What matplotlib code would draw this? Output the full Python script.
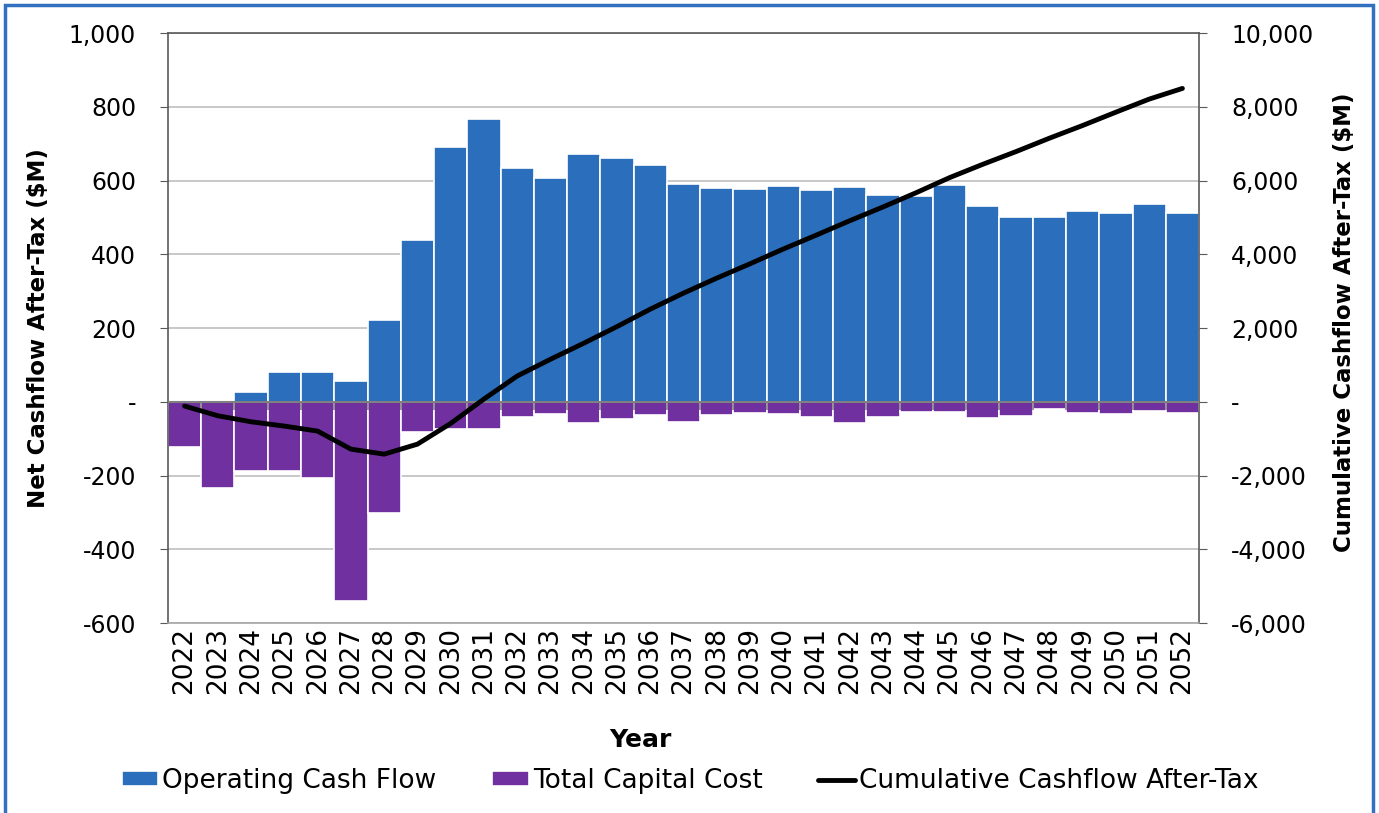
import matplotlib.pyplot as plt
import matplotlib.patches as patches
import numpy as np

plt.rcParams['font.family'] = ['DejaVu Sans']

years = list(range(2022, 2053))

operating_cf = [0, 0, 27, 80, 82, 55, 223, 440, 692, 767,
                635, 608, 672, 662, 643, 591, 579, 576, 586, 575,
                582, 562, 558, 587, 532, 500, 500, 516, 513, 536, 513]

capital_cost = [-123, -235, -189, -187, -208, -541, -302, -82, -75, -73,
                -42, -34, -57, -46, -35, -56, -36, -30, -33, -42,
                -57, -42, -29, -27, -43, -38, -21, -30, -33, -26, -30]

cumulative = [-117, -380, -543, -660, -796, -1285, -1421, -1150, -588, 73,
              698, 1152, 1587, 2038, 2510, 2946, 3353, 3742, 4141, 4522,
              4910, 5283, 5671, 6078, 6440, 6785, 7147, 7492, 7853, 8207, 8497]

left_ticks = [1000, 800, 600, 400, 200, 0, -200, -400, -600]
right_ticks = [10000, 8000, 6000, 4000, 2000, 0, -2000, -4000, -6000]

blue = '#2B6EBB'
purple = '#7030A0'

fig = plt.figure(figsize=(13.79, 8.13), dpi=100)
ax = fig.add_axes([0.1218, 0.2337, 0.7477, 0.7257])

x = np.arange(len(years))
ax.bar(x, operating_cf, width=1.0, color=blue, edgecolor='white', linewidth=1.2,
       label='Operating Cash Flow', zorder=2)
ax.bar(x, capital_cost, width=1.0, color=purple, edgecolor='white', linewidth=1.2,
       label='Total Capital Cost', zorder=2)

ax.set_xlim(-0.5, len(years) - 0.5)
ax.set_ylim(-600, 1000)
ax.set_yticks(left_ticks)
ax.set_yticklabels([f'{v:,}' if v != 0 else '-' for v in left_ticks], fontsize=17)
ax.set_xticks(x)
ax.set_xticklabels([str(y) for y in years], rotation=90, fontsize=19)
ax.tick_params(axis='x', length=0, pad=3)
ax.tick_params(axis='y', length=6, color='#595959', pad=17)
ax.grid(axis='y', color='#BFBFBF', linewidth=1.2, zorder=0)
ax.set_axisbelow(True)

# zero axis line with category tick marks
ax.axhline(0, color='#808080', linewidth=1.5, zorder=3)
ax.vlines(np.arange(len(years) + 1) - 0.5, -22, 0, color='#808080', linewidth=1.2, zorder=3)

for s in ax.spines.values():
    s.set_color('#595959')
    s.set_linewidth(1.2)
ax.spines['bottom'].set_color('#A6A6A6')

ax.set_ylabel('Net Cashflow After-Tax ($M)', fontsize=16.5, fontweight='bold')
ax.yaxis.set_label_coords(-0.114, 0.5)
ax.set_xlabel('Year', fontsize=18, fontweight='bold')
ax.xaxis.set_label_coords(0.458, -0.178)

ax2 = ax.twinx()
ax2.plot(x, cumulative, color='black', linewidth=3.5, solid_capstyle='round',
         label='Cumulative Cashflow After-Tax', zorder=4)
ax2.set_ylim(-6000, 10000)
ax2.set_yticks(right_ticks)
ax2.set_yticklabels([f'{v:,}' if v != 0 else '-' for v in right_ticks], fontsize=17)
ax2.tick_params(axis='y', length=6, color='#595959', pad=17)
ax2.set_ylabel('Cumulative Cashflow After-Tax ($M)', fontsize=16.5, fontweight='bold')
ax2.yaxis.set_label_coords(1.130, 0.51)
for s in ax2.spines.values():
    s.set_visible(False)

h1, l1 = ax.get_legend_handles_labels()
h2, l2 = ax2.get_legend_handles_labels()
fig.legend(h1 + h2, l1 + l2, loc='center', bbox_to_anchor=(0.5004, 0.0394), ncol=3,
           frameon=False, fontsize=19, handlelength=1.4, handleheight=0.5,
           handletextpad=0.15, columnspacing=2.1)

fig.patches.append(patches.Rectangle((5 / 1379, -0.05), 1368 / 1379, 1.05 - 5 / 813,
                                     transform=fig.transFigure, fill=False,
                                     edgecolor='#3270C0', linewidth=2.5, clip_on=False))

fig.savefig('out.png', dpi=100)
